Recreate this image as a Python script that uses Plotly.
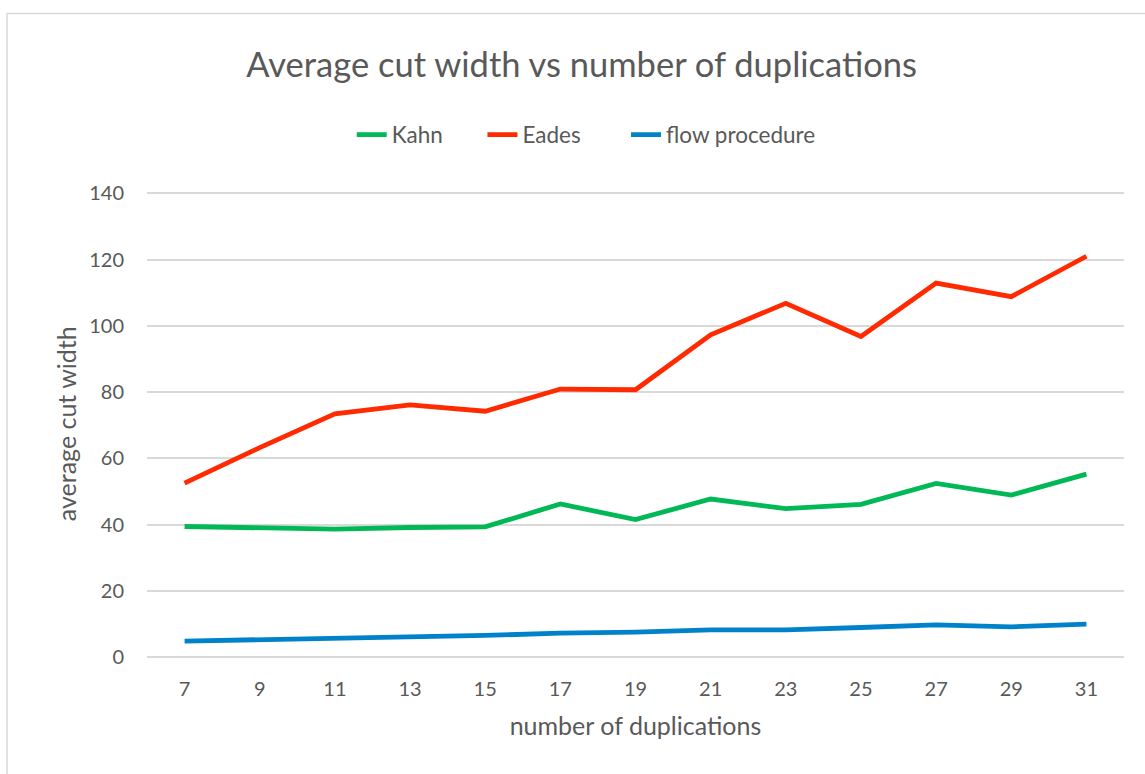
import plotly.graph_objects as go

duplications = ["7", "9", "11", "13", "15", "17", "19", "21", "23", "25", "27", "29", "31"]
kahn = [39.4, 39.0, 38.6, 39.1, 39.3, 46.2, 41.5, 47.7, 44.8, 46.1, 52.4, 48.9, 55.2]
eades = [52.5, 63.2, 73.4, 76.1, 74.2, 80.9, 80.7, 97.3, 106.8, 96.8, 112.9, 108.8, 121.0]
flow = [4.8, 5.2, 5.8, 6.2, 6.5, 7.2, 7.5, 8.2, 8.2, 8.9, 9.7, 9.1, 9.9]
y_ticks = [0, 20, 40, 60, 80, 100, 120, 140]

series_names = ["Kahn", "Eades", "flow procedure"]
series_colors = ["#00B956", "#FF2A00", "#0082CA"]
# extra legend spacing after each entry (non-breaking spaces)
legend_pad = [6, 7, 0]

FONT = "Lato, 'Open Sans', sans-serif"
TXT = "#595959"
GRID = "#D9D9D9"

# plot area: 0 at y=657px, 140 at y=193px; range top extended to 141 so the 140 gridline shows
Y_TOP = 141
PX_PER_UNIT = (657 - 193) / 140
plot_h = PX_PER_UNIT * Y_TOP
top_margin = 657 - plot_h

fig = go.Figure()
for name, vals, col, pad in zip(series_names, [kahn, eades, flow], series_colors, legend_pad):
    fig.add_trace(go.Scatter(
        x=duplications, y=vals, name=name + "\u00a0" * pad, mode="lines",
        line=dict(color=col, width=4.8),
        hovertemplate=name + ": %{y}<extra></extra>",
    ))

fig.update_layout(
    width=1145, height=774,
    margin=dict(l=147, r=21, t=top_margin, b=117),
    paper_bgcolor="white", plot_bgcolor="white",
    font=dict(family=FONT, color=TXT, size=20),
    title=dict(text="Average cut width vs number of duplications",
               x=0.508, xanchor="center", y=1 - 65 / 774, yanchor="middle",
               xref="container", yref="container",
               font=dict(size=34.5, color=TXT, family=FONT)),
    legend=dict(orientation="h", xref="container", x=0.512, xanchor="center",
                yref="container", y=1 - 135 / 774, yanchor="middle",
                font=dict(size=22.5, color=TXT), bgcolor="rgba(0,0,0,0)"),
    showlegend=True,
)
fig.update_xaxes(
    type="category", range=[-0.5, 12.5], showgrid=False, showline=False,
    zeroline=False, ticks="", tickfont=dict(size=20, color=TXT),
    ticklabelstandoff=18,
    title=dict(text="number of duplications", font=dict(size=25, color=TXT), standoff=18),
)
fig.update_yaxes(
    range=[0, Y_TOP], tickvals=y_ticks,
    showgrid=True, gridcolor=GRID, gridwidth=1.5,
    zeroline=True, zerolinecolor=GRID, zerolinewidth=1.5,
    showline=False, ticks="", tickfont=dict(size=20, color=TXT),
    ticklabelstandoff=22,
)
fig.add_annotation(text="average cut width", textangle=-90,
                   xref="paper", yref="paper", x=(66 - 147) / 977, y=(657 - 424) / plot_h,
                   xanchor="center", yanchor="middle", showarrow=False,
                   font=dict(size=25, color=TXT, family=FONT))
fig.add_shape(type="rect", xref="paper", yref="paper",
              x0=(7 - 147) / 977, x1=2, y0=-2, y1=(657 - 13) / plot_h,
              line=dict(color=GRID, width=1.5), layer="below")

fig.write_html("out.html")
